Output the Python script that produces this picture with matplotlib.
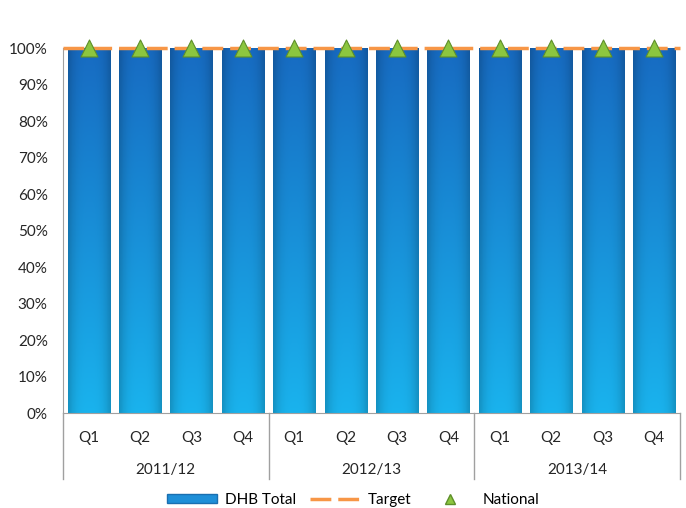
"""Quarterly DHB total vs target and national, bar chart with two-level category axis."""

import matplotlib

matplotlib.use("Agg")

import matplotlib.pyplot as plt
import numpy as np
from matplotlib.lines import Line2D
from matplotlib.patches import Patch

years = ["2011/12", "2012/13", "2013/14"]
quarters = ["Q1", "Q2", "Q3", "Q4"]
dhb_total = [1.0, 1.0, 1.0, 1.0, 1.0, 1.0, 1.0, 1.0, 1.0, 1.0, 1.0, 1.0]
target = [1.0] * 12
national = [1.0, 1.0, 1.0, 1.0, 1.0, 1.0, 1.0, 1.0, 1.0, 1.0, 1.0, 1.0]

plt.rcParams["font.family"] = ["Lato", "DejaVu Sans"]

fig = plt.figure(figsize=(6.86, 5.08), dpi=100)
ax = fig.add_axes([0.0918, 0.187, 0.899, 0.7185])

n = len(dhb_total)
x = np.arange(n)
width = 0.82

bars = ax.bar(x, dhb_total, width=width, color="#1e8fd8", zorder=2)

# vertical gradient (dark blue top -> cyan bottom) with darker side edges
top = np.array([0.09, 0.42, 0.76])
bottom = np.array([0.10, 0.70, 0.93])
rows = np.linspace(0, 1, 64)[:, None, None]
cols = np.linspace(-1, 1, 32)[None, :, None]
grad = bottom + (top - bottom) * rows
edge = 1 - 0.18 * np.abs(cols) ** 3
img = np.clip(grad * edge, 0, 1)
for bar in bars:
  bx, by = bar.get_x(), bar.get_y()
  bw, bh = bar.get_width(), bar.get_height()
  ax.imshow(
    img,
    extent=(bx, bx + bw, by, by + bh),
    origin="lower",
    aspect="auto",
    zorder=2,
  )

ax.plot(
  [-0.5, n - 0.5],
  [target[0], target[-1]],
  color="#f79646",
  linewidth=2.5,
  dashes=(6, 2),
  zorder=3,
  clip_on=False,
)
ax.scatter(
  x,
  national,
  marker="^",
  s=150,
  color="#8cc63f",
  edgecolors="#5e8f2a",
  linewidths=0.8,
  zorder=4,
  clip_on=False,
)

ax.set_xlim(-0.5, n - 0.5)
ax.set_ylim(0, 1.0)
ax.set_yticks(np.arange(0, 1.01, 0.1))
ax.set_yticklabels([f"{int(round(v * 100))}%" for v in np.arange(0, 1.01, 0.1)])
ax.set_xticks(x)
ax.set_xticklabels(quarters * len(years))
ax.tick_params(axis="both", length=0, labelsize=11, colors="#262626")
ax.tick_params(axis="x", pad=13)
ax.tick_params(axis="y", pad=11)

for side in ("top", "right"):
  ax.spines[side].set_visible(False)
ax.spines["left"].set_color("#a0a0a0")
ax.spines["bottom"].set_color("#a0a0a0")

# two-level category axis: year labels and divider lines
trans = ax.get_xaxis_transform()
for i, year in enumerate(years):
  ax.text(
    i * 4 + 1.5,
    -0.157,
    year,
    transform=trans,
    ha="center",
    va="center",
    fontsize=11,
    color="#262626",
  )
for xpos in [-0.5, 3.5, 7.5, 11.5]:
  ax.add_line(
    Line2D(
      [xpos, xpos],
      [0, -0.18],
      transform=trans,
      color="#a0a0a0",
      linewidth=1.0,
      clip_on=False,
    )
  )

handles = [
  Patch(facecolor="#1e8fd8", edgecolor="#1a6fb0", label="DHB Total"),
  Line2D([], [], color="#f79646", linewidth=2.5, dashes=(6, 2), label="Target"),
  Line2D(
    [],
    [],
    marker="^",
    linestyle="none",
    markersize=7,
    color="#8cc63f",
    markeredgecolor="#5e8f2a",
    label="National",
  ),
]
fig.legend(
  handles=handles,
  loc="lower center",
  bbox_to_anchor=(0.515, -0.025),
  ncol=3,
  frameon=False,
  fontsize=11,
  handlelength=3.3,
  handleheight=0.6,
  columnspacing=0.9,
  handletextpad=0.5,
)

fig.savefig("out.png", dpi=100)
